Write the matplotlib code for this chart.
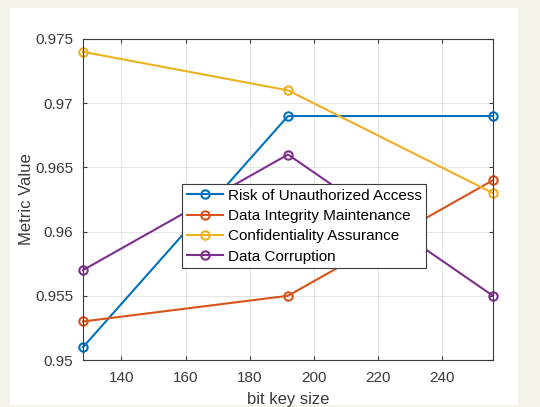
import matplotlib
matplotlib.use("Agg")
import matplotlib.pyplot as plt
from matplotlib.patches import Rectangle

# key sizes and metric values per series
key_sizes = [128, 192, 256]
risk_unauth = [0.951, 0.969, 0.969]
integrity = [0.953, 0.955, 0.964]
confidentiality = [0.974, 0.971, 0.963]
corruption = [0.957, 0.966, 0.955]

labels = ["Risk of Unauthorized Access", "Data Integrity Maintenance",
          "Confidentiality Assurance", "Data Corruption"]
colors = ["#0072BD", "#D95319", "#EDB120", "#7E2F8E"]
x_ticks = [140, 160, 180, 200, 220, 240]
y_ticks = [0.95, 0.955, 0.96, 0.965, 0.97, 0.975]
y_ticklabels = ["0.95", "0.955", "0.96", "0.965", "0.97", "0.975"]

plt.rcParams["font.family"] = ["Liberation Sans", "DejaVu Sans"]

W, H = 540, 407
fig = plt.figure(figsize=(W / 100, H / 100), dpi=100, facecolor="#f4f3ea")
# white panel inside the thin outer frame
fig.patches.append(Rectangle((10 / W, 2 / H), 508 / W, 397 / H,
                             transform=fig.transFigure, facecolor="white",
                             edgecolor="none", zorder=-10))
ax = fig.add_axes([83 / W, (H - 360) / H, 410 / W, 321 / H])
ax.set_zorder(5)

for ys, lab, c in zip([risk_unauth, integrity, confidentiality, corruption],
                      labels, colors):
    ax.plot(key_sizes, ys, "-o", color=c, label=lab, linewidth=1.5,
            markersize=6, markerfacecolor="none", markeredgewidth=1.5,
            clip_on=False)

ax.set_xlim(128, 256)
ax.set_ylim(0.95, 0.975)
ax.set_xticks(x_ticks)
ax.set_yticks(y_ticks)
ax.set_yticklabels(y_ticklabels)
ax.tick_params(direction="in", length=3, labelsize=11, colors="#3a3a3a",
               top=True, right=True)
ax.tick_params(axis="x", pad=8)
ax.tick_params(axis="y", pad=7)
for s in ax.spines.values():
    s.set_color("#3a3a3a")
    s.set_linewidth(0.8)
ax.grid(True, color="#e2e2e2", linewidth=0.6)
ax.set_axisbelow(True)
ax.set_xlabel("bit key size", fontsize=12, color="#3a3a3a", labelpad=5)
ax.set_ylabel("Metric Value", fontsize=12, color="#3a3a3a", labelpad=1)

# legend box top-left corner in axes fraction
leg = ax.legend(loc="upper left",
                bbox_to_anchor=((182 - 83) / 410, (360 - 184) / 321),
                fontsize=11, frameon=True, fancybox=False, borderpad=0.3,
                handlelength=2.4, handletextpad=0.3, labelspacing=0.42,
                borderaxespad=0, framealpha=1)
leg.get_frame().set_edgecolor("#3a3a3a")
leg.get_frame().set_linewidth(0.8)

fig.savefig("out.png", dpi=100, facecolor=fig.get_facecolor())
